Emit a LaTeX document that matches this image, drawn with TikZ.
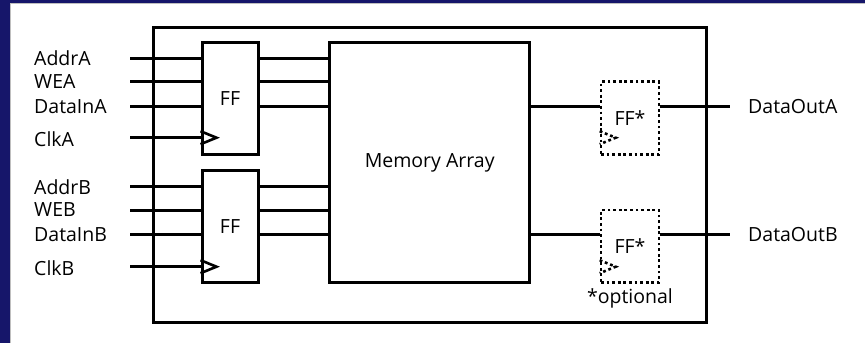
\documentclass[tikz,border=0pt]{standalone}
\usepackage{fontspec}
\setmainfont{Open Sans}
\usetikzlibrary{positioning,calc}
\definecolor{edgeblue}{HTML}{16166A}
\newcommand{\sigfont}{\fontsize{19.5}{23}\selectfont}
\tikzset{
  blk/.style    = {draw=black, line width=3pt, fill=white, inner sep=0pt, font=\sigfont},
  optblk/.style = {blk, dash pattern=on 2.8pt off 2.8pt, line width=2.6pt},
  sig/.style    = {inner sep=0pt, anchor=west, font=\sigfont},
  wire/.style   = {line width=3pt},
  clk/.style    = {line width=2.6pt, line join=miter},
  clkopt/.style = {clk, dash pattern=on 2.8pt off 2.8pt},
}

\begin{document}
\begin{tikzpicture}[x=1pt, y=-1pt]
  \useasboundingbox (0,0) rectangle (865,343);
  \fill[white] (0,0) rectangle (865,343);
  \fill[edgeblue] (0,0) rectangle (9.5,343);
  \fill[edgeblue] (0,0) rectangle (865,3);
  \draw[black!25, line width=0.8pt] (10,343) -- (10,3.5) -- (865,3.5);
  % blocks
  \node[blk, minimum width=553pt, minimum height=295pt] (frame) at (429.5,174.5) {};
  \node[blk, minimum width=56pt, minimum height=112pt] (ffa) at (230,98.3) {FF};
  \node[blk, minimum width=56pt, minimum height=112pt] (ffb) at (230,226.7) {FF};
  \node[blk, minimum width=200.5pt, minimum height=240.4pt] (mem) at (429.7,162.5) {Memory Array};
  \node[optblk, minimum width=58pt, minimum height=72.6pt] (ffoa) at (630,118) {FF*};
  \node[optblk, minimum width=58pt, minimum height=72.6pt] (ffob) at (630,246.3) {FF*};
  \node[sig, below=5pt of ffob] (opt) {*optional};
  % port A inputs
  \coordinate (addra) at (130,58.3); \coordinate (wea) at (130,81.7);
  \coordinate (dina) at (130,106.7); \coordinate (clka) at (130,137.7);
  \node[sig] (laddra) at (34,58.3) {AddrA};
  \node[sig] (lwea) at (34,81.7) {WEA};
  \node[sig] (ldina) at (34,106.7) {DataInA};
  \node[sig] (lclka) at (34,138.7) {ClkA};
  \draw[wire] (addra) -- (addra -| ffa.west); \draw[wire] (wea) -- (wea -| ffa.west);
  \draw[wire] (dina) -- (dina -| ffa.west); \draw[wire] (clka) -- (clka -| ffa.west);
  \draw[wire] (addra -| ffa.east) -- (addra -| mem.west);
  \draw[wire] (wea -| ffa.east) -- (wea -| mem.west);
  \draw[wire] (dina -| ffa.east) -- (dina -| mem.west);
  \draw[clk] ($(clka -| ffa.west)+(0,-6.5)$) -- ++(16,6.5) -- ++(-16,6.5);
  % port B inputs
  \coordinate (addrb) at (130,186.7); \coordinate (web) at (130,210);
  \coordinate (dinb) at (130,234.3); \coordinate (clkb) at (130,266.7);
  \node[sig] (laddrb) at (34,186.7) {AddrB};
  \node[sig] (lweb) at (34,210) {WEB};
  \node[sig] (ldinb) at (34,234.3) {DataInB};
  \node[sig] (lclkb) at (34,267.7) {ClkB};
  \draw[wire] (addrb) -- (addrb -| ffb.west); \draw[wire] (web) -- (web -| ffb.west);
  \draw[wire] (dinb) -- (dinb -| ffb.west); \draw[wire] (clkb) -- (clkb -| ffb.west);
  \draw[wire] (addrb -| ffb.east) -- (addrb -| mem.west);
  \draw[wire] (web -| ffb.east) -- (web -| mem.west);
  \draw[wire] (dinb -| ffb.east) -- (dinb -| mem.west);
  \draw[clk] ($(clkb -| ffb.west)+(0,-6.5)$) -- ++(16,6.5) -- ++(-16,6.5);
  % outputs
  \coordinate (douta) at (730,106.7); \coordinate (doutb) at (730,234.3);
  \draw[wire] (mem.east |- douta) -- (ffoa.west |- douta);
  \draw[wire] (ffoa.east |- douta) -- (douta);
  \draw[wire] (mem.east |- doutb) -- (ffob.west |- doutb);
  \draw[wire] (ffob.east |- doutb) -- (doutb);
  \draw[clkopt] ($(clka -| ffoa.west)+(0,-6.5)$) -- ++(16,6.5) -- ++(-16,6.5);
  \draw[clkopt] ($(clkb -| ffob.west)+(0,-6.5)$) -- ++(16,6.5) -- ++(-16,6.5);
  \node[sig, right=18pt of douta] (ldouta) {DataOutA};
  \node[sig, right=18pt of doutb] (ldoutb) {DataOutB};
\end{tikzpicture}
\end{document}
